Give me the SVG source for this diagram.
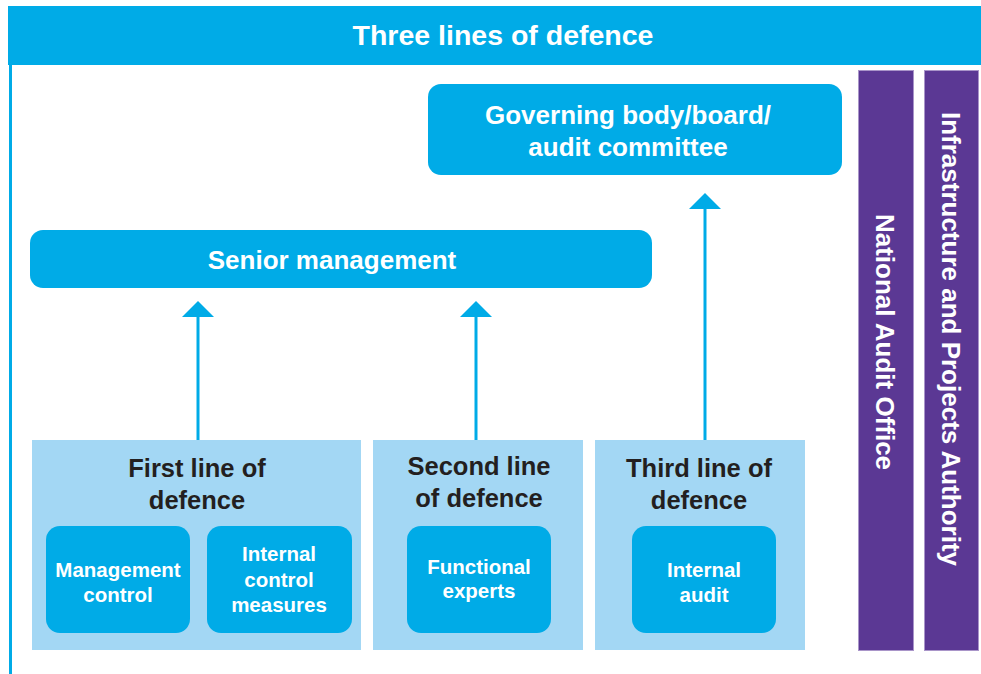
<svg xmlns="http://www.w3.org/2000/svg" width="981" height="674" viewBox="0 0 981 674">
<defs>
<style>
.blue{fill:#00abe7}
.light{fill:#a3d7f4}
.purple{fill:#5b3894;stroke:#a995c9;stroke-width:1}
.wt{fill:#ffffff;font-family:"Liberation Sans",Arial,sans-serif;font-weight:bold;text-anchor:middle}
.dk{fill:#231f20;font-family:"Liberation Sans",Arial,sans-serif;font-weight:bold;text-anchor:middle;font-size:25.5px}
.in{font-size:20.5px}
.conn{stroke:#00abe7;stroke-width:3;fill:none}
</style>
<marker id="ah" viewBox="0 0 16 32" refX="8" refY="16" markerWidth="16" markerHeight="32" markerUnits="userSpaceOnUse" orient="auto">
<path d="M0,0 L16,16 L0,32 Z" fill="#00abe7"/>
</marker>
</defs>
<rect x="0" y="0" width="981" height="674" fill="#ffffff"/>
<g id="header">
<rect x="8" y="6" width="973" height="59" class="blue"/>
<rect x="9" y="65" width="3" height="609" class="blue"/>
<text x="503" y="45" class="wt" font-size="28.5">Three lines of defence</text>
</g>
<g id="nao">
<rect x="858.5" y="70.5" width="55" height="580" class="purple"/>
<text class="wt" font-size="26" transform="translate(876,342) rotate(90)">National Audit Office</text>
</g>
<g id="ipa">
<rect x="924.5" y="70.5" width="54" height="580" class="purple"/>
<text class="wt" font-size="26" transform="translate(942,339) rotate(90)">Infrastructure and Projects Authority</text>
</g>
<g id="governing">
<rect x="428" y="84" width="414" height="91" rx="13" class="blue"/>
<text x="628" y="124" class="wt" font-size="26">Governing body/board/</text>
<text x="628" y="156" class="wt" font-size="26">audit committee</text>
</g>
<g id="senior">
<rect x="30" y="230" width="622" height="58" rx="13" class="blue"/>
<text x="332" y="269" class="wt" font-size="26">Senior management</text>
</g>
<g id="first">
<rect x="32" y="440" width="329" height="210" class="light"/>
<text x="197" y="477" class="dk">First line of</text>
<text x="197" y="509" class="dk">defence</text>
</g>
<g id="mgmt">
<rect x="46" y="526" width="144" height="107" rx="14" class="blue"/>
<text x="118" y="577" class="wt in" font-size="21">Management</text>
<text x="118" y="602" class="wt in" font-size="21">control</text>
</g>
<g id="icm">
<rect x="207" y="526" width="145" height="107" rx="14" class="blue"/>
<text x="279" y="561" class="wt in">Internal</text>
<text x="279" y="587" class="wt in">control</text>
<text x="279" y="612" class="wt in">measures</text>
</g>
<g id="second">
<rect x="373" y="440" width="210" height="210" class="light"/>
<text x="479" y="475" class="dk">Second line</text>
<text x="479" y="507" class="dk">of defence</text>
</g>
<g id="functional">
<rect x="407" y="526" width="144" height="107" rx="14" class="blue"/>
<text x="479" y="574" class="wt in">Functional</text>
<text x="479" y="598" class="wt in">experts</text>
</g>
<g id="third">
<rect x="595" y="440" width="210" height="210" class="light"/>
<text x="699" y="477" class="dk">Third line of</text>
<text x="699" y="509" class="dk">defence</text>
</g>
<g id="audit">
<rect x="632" y="526" width="144" height="107" rx="14" class="blue"/>
<text x="704" y="577" class="wt in">Internal</text>
<text x="704" y="602" class="wt in">audit</text>
</g>
<g id="connectors">
<line x1="198" y1="440" x2="198" y2="309" class="conn" marker-end="url(#ah)"/>
<line x1="476" y1="440" x2="476" y2="309" class="conn" marker-end="url(#ah)"/>
<line x1="705" y1="440" x2="705" y2="201" class="conn" marker-end="url(#ah)"/>
</g>
</svg>
